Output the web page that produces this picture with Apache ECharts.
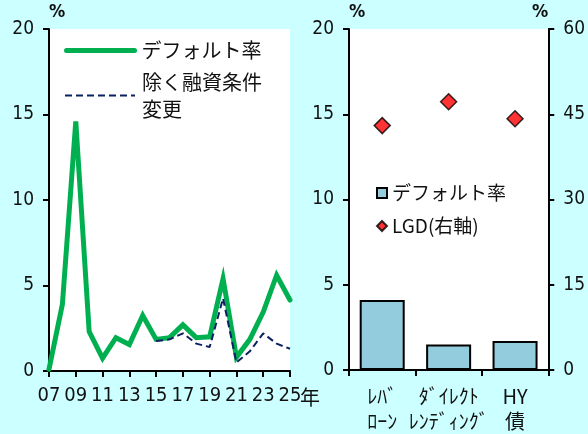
<!DOCTYPE html>
<html>
<head>
<meta charset="utf-8">
<script src="https://cdn.jsdelivr.net/npm/echarts@6/dist/echarts.min.js"></script>
<style>
  html, body { margin: 0; padding: 0; background: #ccffff; }
  #chart { width: 588px; height: 434px; }
</style>
</head>
<body>
<div id="chart"></div>
<script>
// Annual default rate of leveraged loans (%), 2007-2025
const years = ['07','08','09','10','11','12','13','14','15','16','17','18','19','20','21','22','23','24','25'];
const defaultRate = [0.1, 3.9, 14.6, 2.3, 0.75, 1.95, 1.55, 3.25, 1.85, 1.95, 2.7, 1.95, 2.0, 5.4, 0.8, 1.85, 3.45, 5.6, 4.15];
const defaultRateExAmend = [null, null, null, null, null, null, null, null, 1.75, 1.85, 2.2, 1.6, 1.4, 4.25, 0.5, 1.15, 2.2, 1.6, 1.3];

// Comparison by product: average default rate (left axis) and LGD (right axis)
const products = ['ﾚﾊﾞ\nﾛｰﾝ', 'ﾀﾞｲﾚｸﾄ\nﾚﾝﾃﾞｨﾝｸﾞ', 'HY\n債'];
const productDefault = [4.1, 1.5, 1.7];
const productLGD = [43, 47.2, 44.2];

const leftTicks = [0, 5, 10, 15, 20];
const rightTicks = [0, 15, 30, 45, 60];

const numFont = '"DejaVu Sans Condensed", "Liberation Sans", sans-serif';
const jpFont = '"Noto Sans CJK JP", sans-serif';
const ink = '#111';

const axisLineStyle = { lineStyle: { color: '#000', width: 2 } };
const tickStyle = { show: true, length: 6, lineStyle: { color: '#000', width: 2 } };

function valueAxis(gridIndex, ticks, position, nameAlign) {
  return {
    type: 'value', gridIndex: gridIndex, position: position,
    min: ticks[0], max: ticks[ticks.length - 1], interval: ticks[1] - ticks[0],
    name: '%', nameLocation: 'end', nameGap: 8,
    nameTextStyle: { fontFamily: numFont, fontSize: 18, fontWeight: 'bold', color: ink, align: nameAlign },
    axisLine: Object.assign({ show: true }, axisLineStyle),
    axisTick: Object.assign({ inside: false }, tickStyle),
    axisLabel: { fontFamily: numFont, fontSize: 19, color: ink, margin: 15 },
    splitLine: { show: false }
  };
}

const chart = echarts.init(document.getElementById('chart'), null, { renderer: 'canvas' });

chart.setOption({
  backgroundColor: '#ccffff',
  animation: false,
  grid: [
    { left: 49, top: 29, width: 241, height: 342, show: true, backgroundColor: '#ffffff', borderWidth: 0 },
    { left: 349, top: 29, width: 201, height: 342, show: true, backgroundColor: '#ffffff', borderWidth: 0 }
  ],
  xAxis: [
    {
      type: 'category', gridIndex: 0, data: years, boundaryGap: false,
      axisLine: Object.assign({ show: true }, axisLineStyle),
      axisTick: Object.assign({ interval: 1 }, tickStyle),
      axisLabel: { interval: 1, fontFamily: numFont, fontSize: 20, color: ink, margin: 15 }
    },
    {
      type: 'category', gridIndex: 1, data: products, boundaryGap: true,
      axisLine: Object.assign({ show: true }, axisLineStyle),
      axisTick: Object.assign({ alignWithLabel: false }, tickStyle),
      axisLabel: { interval: 0, fontFamily: jpFont, fontSize: 20, color: ink, margin: 14, lineHeight: 25 }
    }
  ],
  yAxis: [
    valueAxis(0, leftTicks, 'left', 'left'),
    valueAxis(1, leftTicks, 'left', 'left'),
    valueAxis(1, rightTicks, 'right', 'right')
  ],
  legend: [
    {
      data: ['デフォルト率'], orient: 'vertical', left: 64, top: 37, padding: 0,
      itemWidth: 68, itemHeight: 14, itemStyle: { opacity: 0 },
      lineStyle: { width: 5, cap: 'round' },
      textStyle: { fontFamily: jpFont, fontSize: 20, color: ink, lineHeight: 27, padding: [0, 0, 0, 2] }
    },
    {
      data: ['除く融資条件変更'], orient: 'vertical', left: 64, top: 55, padding: 0,
      itemWidth: 70, itemHeight: 14, itemStyle: { opacity: 0 },
      lineStyle: { width: 2 },
      formatter: function () { return '除く融資条件\n変更'; },
      textStyle: { fontFamily: jpFont, fontSize: 20, color: ink, lineHeight: 27, padding: [27, 0, 0, 2] }
    },
    {
      data: [
        { name: '商品別デフォルト率', icon: 'rect' },
        { name: 'LGD(右軸)', icon: 'diamond' }
      ],
      orient: 'vertical', left: 376, top: 181, padding: 0, itemGap: 9,
      itemWidth: 10, itemHeight: 10,
      formatter: function (n) { return n === '商品別デフォルト率' ? 'デフォルト率' : n; },
      textStyle: { fontFamily: jpFont, fontSize: 19, color: ink, lineHeight: 24 }
    }
  ],
  graphic: [
    {
      type: 'text', left: 300, top: 387,
      style: { text: '年', fontFamily: jpFont, fontSize: 20, fill: ink }
    }
  ],
  series: [
    {
      name: 'デフォルト率', type: 'line', xAxisIndex: 0, yAxisIndex: 0,
      data: defaultRate, symbol: 'none', z: 2,
      lineStyle: { color: '#00b050', width: 5, cap: 'round', join: 'miter' },
      itemStyle: { color: '#00b050' }
    },
    {
      name: '除く融資条件変更', type: 'line', xAxisIndex: 0, yAxisIndex: 0,
      data: defaultRateExAmend, symbol: 'none', z: 3,
      lineStyle: { color: '#0b2161', width: 2, type: [7, 4] },
      itemStyle: { color: '#0b2161' }
    },
    {
      name: '商品別デフォルト率', type: 'bar', xAxisIndex: 1, yAxisIndex: 1,
      data: productDefault, barWidth: 45,
      itemStyle: { color: '#93cddd', borderColor: '#000', borderWidth: 2 }
    },
    {
      name: 'LGD(右軸)', type: 'scatter', xAxisIndex: 1, yAxisIndex: 2,
      data: productLGD, symbol: 'diamond', symbolSize: 16,
      itemStyle: { color: '#ff0000', borderColor: '#000', borderWidth: 1.5 }
    }
  ]
});
</script>
</body>
</html>
